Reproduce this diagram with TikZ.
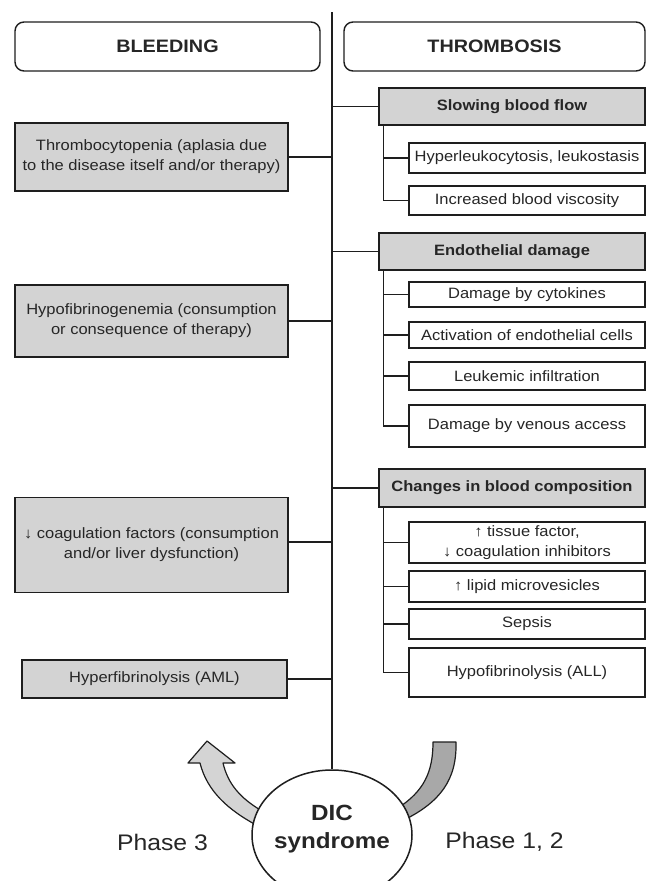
\documentclass[tikz,border=0pt]{standalone}
\usepackage{fontspec}
\setmainfont{Liberation Sans}[FakeStretch=1.1]
\usetikzlibrary{shapes.geometric}
\definecolor{ink}{HTML}{262626}
\definecolor{edge}{HTML}{1E1E1E}
\definecolor{boxgray}{HTML}{D3D3D3}
\definecolor{arrowlight}{HTML}{D4D4D4}
\definecolor{arrowdark}{HTML}{A8A8A8}
\begin{document}
\begin{tikzpicture}[x=1pt,y=-1pt,
  every node/.style={inner sep=0pt, text=ink},
  title/.style={draw=edge, line width=1.4pt, rounded corners=9pt, fill=white,
    font=\fontsize{18}{22}\selectfont\bfseries},
  graybox/.style={draw=edge, line width=1.7pt, fill=boxgray, align=center,
    font=\fontsize{15}{20}\selectfont},
  headbox/.style={draw=edge, line width=1.7pt, fill=boxgray, align=center,
    font=\fontsize{15}{20}\selectfont\bfseries},
  subbox/.style={draw=edge, line width=1.6pt, fill=white, align=center,
    font=\fontsize{15}{20}\selectfont},
  branch/.style={draw=edge, line width=1.8pt},
  trunk/.style={draw=edge, line width=1.3pt},
  spineline/.style={draw=edge, line width=1.3pt},
  phase/.style={font=\fontsize{22.5}{27}\selectfont},
  dicstyle/.style={draw=edge, line width=1.5pt, fill=white, ellipse},
  dictext/.style={align=center, font=\fontsize{22}{28}\selectfont\bfseries},
  bandarrow/.style={draw=edge, line width=1.2pt, line join=round},
]
\useasboundingbox[fill=white] (0,0) rectangle (647,881);

% titles
\node[title, minimum width=305pt, minimum height=49pt] (bleed) at (167.5,46.5) {BLEEDING};
\node[title, minimum width=301pt, minimum height=49pt] (thromb) at (494.5,46.5) {THROMBOSIS};

% right column heads
\node[headbox, minimum width=266pt, minimum height=37pt] (slow) at (512,106.5) {Slowing blood flow};
\node[headbox, minimum width=266pt, minimum height=37pt] (endo) at (512,251.5) {Endothelial damage};
\node[headbox, minimum width=266pt, minimum height=38pt] (chg) at (512,488) {Changes in blood composition};

% right column sub boxes
\node[subbox, minimum width=236pt, minimum height=30pt] (hyper) at (527,158) {Hyperleukocytosis, leukostasis};
\node[subbox, minimum width=236pt, minimum height=29pt] (visc) at (527,200.5) {Increased blood viscosity};
\node[subbox, minimum width=236pt, minimum height=25pt] (cyto) at (527,294.5) {Damage by cytokines};
\node[subbox, minimum width=236pt, minimum height=26pt] (activ) at (527,335) {Activation of endothelial cells};
\node[subbox, minimum width=236pt, minimum height=28pt] (leuk) at (527,376) {Leukemic infiltration};
\node[subbox, minimum width=236pt, minimum height=42pt] (venous) at (527,426) {Damage by venous access};
\node[subbox, minimum width=236pt, minimum height=41pt] (tissue) at (527,542.5) {↑ tissue factor,\\ ↓ coagulation inhibitors};
\node[subbox, minimum width=236pt, minimum height=31pt] (lipid) at (527,586.5) {↑ lipid microvesicles};
\node[subbox, minimum width=236pt, minimum height=30pt] (sepsis) at (527,624) {Sepsis};
\node[subbox, minimum width=236pt, minimum height=49pt] (hall) at (527,672.5) {Hypofibrinolysis (ALL)};

% left column
\node[graybox, minimum width=273pt, minimum height=68pt] (thrombo) at (151.5,157) {Thrombocytopenia (aplasia due\\ to the disease itself and/or therapy)};
\node[graybox, minimum width=273pt, minimum height=72pt] (hypofib) at (151.5,321) {Hypofibrinogenemia (consumption\\ or consequence of therapy)};
\node[graybox, minimum width=273pt, minimum height=95pt] (coag) at (151.5,545) {↓ coagulation factors (consumption\\ and/or liver dysfunction)};
\node[graybox, minimum width=265pt, minimum height=38pt] (hyperfib) at (154.5,679) {Hyperfibrinolysis (AML)};

% phase arrows (drawn before the ellipse, which covers their ends)
\draw[bandarrow, fill=arrowlight] (207,741) -- (235,763) -- (223,763)
  .. controls (228,784) and (240,798) .. (262,811) -- (258,826)
  .. controls (228,810) and (207,791) .. (200,763) -- (188,763) -- cycle;
\draw[bandarrow, fill=arrowdark] (433,742) -- (456,742)
  .. controls (457,780) and (440,802) .. (404,820) -- (398,808)
  .. controls (424,791) and (433,772) .. (433,742) -- cycle;

% DIC ellipse
\node[dicstyle, minimum width=160pt, minimum height=130pt] (dic) at (332,835) {};
\node[dictext] (dictxt) at ([yshift=6pt]dic.center) {DIC\\ syndrome};

\node[phase] (ph3) at (162.5,842) {Phase 3};
\node[phase] (ph12) at (504.5,842) {Phase 1, 2};

% spine
\coordinate (spine) at (332,12);
\draw[spineline] (spine) -- (dic.north);

% main branches
\draw[branch] (slow.west) -- (slow.west -| spine);
\draw[branch] (endo.west) -- (endo.west -| spine);
\draw[branch] (chg.west) -- (chg.west -| spine);
\draw[branch] (thrombo.east) -- (thrombo.east -| spine);
\draw[branch] (hypofib.east) -- (hypofib.east -| spine);
\draw[branch] ([yshift=3pt]coag.east) -- ([yshift=3pt]coag.east -| spine);
\draw[branch] (hyperfib.east) -- (hyperfib.east -| spine);

% sub trunks
\coordinate (tr1) at ([xshift=5pt]slow.south west);
\coordinate (tr2) at ([xshift=5pt]endo.south west);
\coordinate (tr3) at ([xshift=5pt]chg.south west);
\draw[trunk] (tr1) |- (visc.west);
\draw[trunk] (hyper.west) -- (hyper.west -| tr1);
\draw[trunk] (tr2) |- (venous.west);
\draw[trunk] (cyto.west) -- (cyto.west -| tr2);
\draw[trunk] (activ.west) -- (activ.west -| tr2);
\draw[trunk] (leuk.west) -- (leuk.west -| tr2);
\draw[trunk] (tr3) |- (hall.west);
\draw[trunk] (tissue.west) -- (tissue.west -| tr3);
\draw[trunk] (lipid.west) -- (lipid.west -| tr3);
\draw[trunk] (sepsis.west) -- (sepsis.west -| tr3);
\end{tikzpicture}
\end{document}
